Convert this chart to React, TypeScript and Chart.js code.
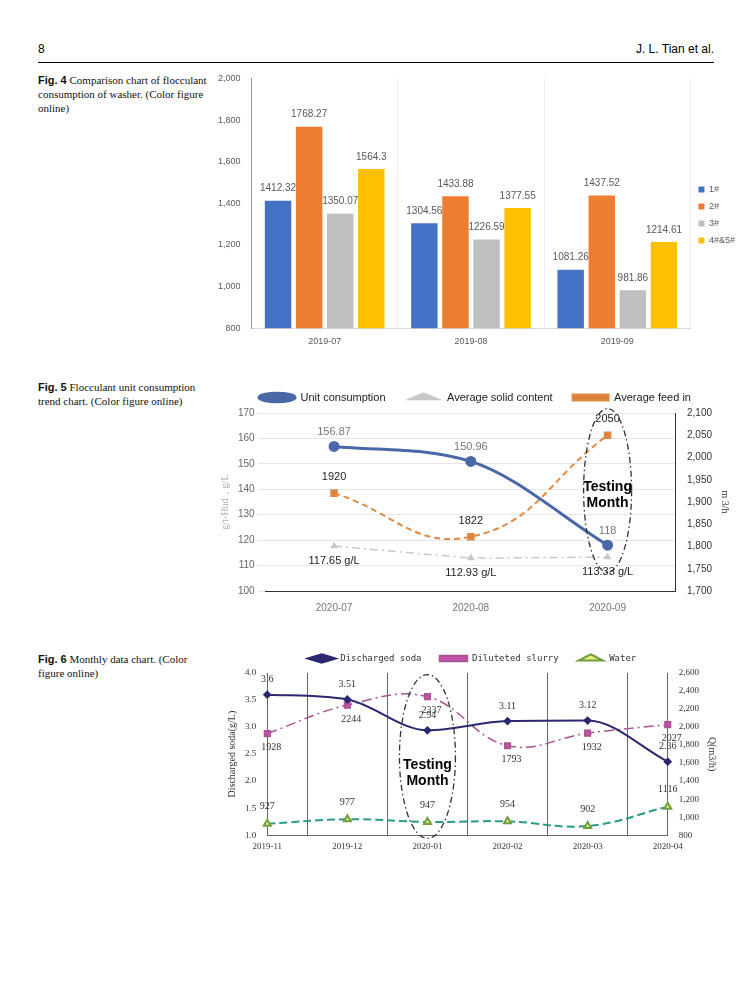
import React, { useEffect, useRef } from "react";
import { Chart, registerables } from "chart.js";
Chart.register(...registerables);

const months1 = ["2019-07", "2019-08", "2019-09"];
const s1 = [1412.32, 1304.56, 1081.26];
const s2 = [1768.27, 1433.88, 1437.52];
const s3 = [1350.07, 1226.59, 981.86];
const s45 = [1564.3, 1377.55, 1214.61];

const months2 = ["2020-07", "2020-08", "2020-09"];
const unitCons = [156.87, 150.96, 118];
const solid = [117.65, 112.93, 113.33];
const feed = [1920, 1822, 2050];

const months3 = ["2019-11", "2019-12", "2020-01", "2020-02", "2020-03", "2020-04"];
const soda = [3.6, 3.51, 2.94, 3.11, 3.12, 2.36];
const slurry = [1928, 2244, 2337, 1793, 1932, 2027];
const water = [927, 977, 947, 954, 902, 1116];

type Lab = { ds: number; suffix: string; dx: number; dy: number; color: string; font: string };
type Ell = { axis: string; idx: number; top: number; bot: number; rx: number; ty: number } | null;

function makeLabelPlugin(labs: Lab[], e: Ell) {
  return {
    id: "labs",
    afterDatasetsDraw(chart: any) {
      const ctx = chart.ctx;
      ctx.save();
      labs.forEach((l) => {
        const meta = chart.getDatasetMeta(l.ds);
        const data = chart.data.datasets[l.ds].data;
        meta.data.forEach((el: any, i: number) => {
          ctx.fillStyle = l.color;
          ctx.font = l.font;
          ctx.textAlign = "center";
          ctx.textBaseline = "middle";
          ctx.fillText(String(data[i]) + l.suffix, el.x + l.dx, el.y + l.dy);
        });
      });
      if (e) {
        const xs = chart.scales.x;
        const ys = chart.scales[e.axis];
        const cx = xs.getPixelForValue(e.idx);
        const top = ys.getPixelForValue(e.top);
        const bot = ys.getPixelForValue(e.bot);
        ctx.strokeStyle = "#333";
        ctx.lineWidth = 1.3;
        ctx.setLineDash([6, 3, 1.5, 3]);
        ctx.beginPath();
        ctx.ellipse(cx, (top + bot) / 2, e.rx, (bot - top) / 2, 0, 0, Math.PI * 2);
        ctx.stroke();
        ctx.setLineDash([]);
        ctx.fillStyle = "#000";
        ctx.font = "bold 14px 'Liberation Sans'";
        ctx.textAlign = "center";
        ctx.textBaseline = "middle";
        ctx.fillText("Testing", cx, e.ty);
        ctx.fillText("Month", cx, e.ty + 16);
      }
      ctx.restore();
    },
  };
}

function useChart(ref: any, cfg: () => any) {
  useEffect(() => {
    const c = new Chart(ref.current, cfg());
    return () => c.destroy();
  }, []);
}

function Chart1() {
  const r = useRef<HTMLCanvasElement>(null);
  useChart(r, () => {
    const f = "10px 'Liberation Sans'";
    const mk = (label: string, data: number[], color: string) => ({ label, data, backgroundColor: color, barPercentage: 0.85, categoryPercentage: 0.85 });
    return {
      type: "bar",
      data: { labels: months1, datasets: [mk("1#", s1, "#4472c4"), mk("2#", s2, "#ed7d31"), mk("3#", s3, "#bfbfbf"), mk("4#&5#", s45, "#ffc000")] },
      plugins: [makeLabelPlugin([0, 1, 2, 3].map((ds) => ({ ds, suffix: "", dx: 0, dy: -12, color: "#595959", font: f })), null)],
      options: {
        animation: false, responsive: false,
        layout: { padding: { top: 5 } },
        scales: {
          x: { grid: { offset: true, color: "#eeeeee", drawTicks: false }, border: { color: "#d9d9d9" }, ticks: { color: "#595959", font: { size: 9 }, padding: 8 } },
          y: { min: 800, max: 2000, ticks: { stepSize: 200, color: "#595959", font: { size: 9 } }, grid: { display: false }, border: { color: "#999" } },
        },
        plugins: {
          legend: { position: "right", labels: { boxWidth: 6, boxHeight: 6, font: { size: 9 }, color: "#595959", padding: 8 } },
          tooltip: { enabled: false },
        },
      },
    };
  });
  return <canvas ref={r} width={530} height={285} style={{ position: "absolute", left: 215, top: 70 }} />;
}

function Chart2() {
  const r = useRef<HTMLCanvasElement>(null);
  useChart(r, () => ({
    type: "line",
    data: {
      labels: months2,
      datasets: [
        { label: "Unit consumption", data: unitCons, borderColor: "#4a68a8", backgroundColor: "#4a68a8", borderWidth: 3, pointRadius: 4, cubicInterpolationMode: "monotone", yAxisID: "y" },
        { label: "Average solid content", data: solid, borderColor: "#c8c8c8", backgroundColor: "#c8c8c8", borderWidth: 1.5, borderDash: [8, 4, 2, 4], pointStyle: "triangle", pointRadius: 3, yAxisID: "y" },
        { label: "Average feed in", data: feed, borderColor: "#e08a47", backgroundColor: "#e07f3c", borderWidth: 2, borderDash: [6, 4], pointStyle: "rect", pointRadius: 4, tension: 0.45, yAxisID: "y1" },
      ],
    },
    plugins: [makeLabelPlugin([
      { ds: 0, suffix: "", dx: 0, dy: -14, color: "#777", font: "11px 'Liberation Sans'" },
      { ds: 1, suffix: " g/L", dx: 0, dy: 15, color: "#222", font: "11px 'Liberation Sans'" },
      { ds: 2, suffix: "", dx: 0, dy: -16, color: "#222", font: "11px 'Liberation Sans'" },
    ], { axis: "y1", idx: 2, top: 2110, bot: 1742, rx: 24, ty: 115 })],
    options: {
      animation: false, responsive: false,
      scales: {
        x: { offset: true, grid: { display: false }, border: { color: "#333" }, ticks: { color: "#777", font: { size: 10 } } },
        y: { min: 100, max: 170, ticks: { stepSize: 10, color: "#666", font: { size: 10 } }, grid: { color: "#e6e6e6" }, border: { display: false }, title: { display: true, text: "g/t-Hud，g/L", color: "#aaa", font: { family: "Liberation Serif", size: 10 } } },
        y1: { position: "right", min: 1700, max: 2100, ticks: { stepSize: 50, color: "#333", font: { size: 10 } }, grid: { display: false }, border: { color: "#333" }, title: { display: true, text: "m 3/h", color: "#333", font: { family: "Liberation Serif", size: 10 } } },
      },
      plugins: {
        legend: { labels: { usePointStyle: true, pointStyleWidth: 36, boxHeight: 6, font: { size: 11 }, color: "#222", padding: 20 } },
        tooltip: { enabled: false },
      },
    },
  }));
  return <canvas ref={r} width={520} height={245} style={{ position: "absolute", left: 215, top: 372 }} />;
}

function Chart3() {
  const r = useRef<HTMLCanvasElement>(null);
  useChart(r, () => {
    const f = "10px 'Liberation Serif'";
    return {
      type: "line",
      data: {
        labels: months3,
        datasets: [
          { label: "Discharged soda", data: soda, borderColor: "#2b2870", backgroundColor: "#2b2870", borderWidth: 2, pointStyle: "rectRot", pointRadius: 3, cubicInterpolationMode: "monotone", yAxisID: "y" },
          { label: "Diluteted slurry", data: slurry, borderColor: "#a8558e", backgroundColor: "#c052a8", borderWidth: 1.5, borderDash: [10, 4, 2, 4], pointStyle: "rect", pointRadius: 4, tension: 0.4, yAxisID: "y1" },
          { label: "Water", data: water, borderColor: "#2c9a86", backgroundColor: "#e8f07a", pointBorderColor: "#70a040", borderWidth: 2, borderDash: [8, 4], pointStyle: "triangle", pointRadius: 4, tension: 0.4, yAxisID: "y1" },
        ],
      },
      plugins: [makeLabelPlugin([
        { ds: 0, suffix: "", dx: 0, dy: -15, color: "#333", font: f },
        { ds: 1, suffix: "", dx: 4, dy: 14, color: "#333", font: f },
        { ds: 2, suffix: "", dx: 0, dy: -17, color: "#333", font: f },
      ], { axis: "y", idx: 2, top: 3.97, bot: 0.94, rx: 28, ty: 129 })],
      options: {
        animation: false, responsive: false,
        scales: {
          x: { grid: { offset: true, color: "#666", drawTicks: false }, border: { color: "#666" }, ticks: { color: "#333", font: { family: "Liberation Serif", size: 9 }, padding: 6 } },
          y: { min: 1, max: 4, ticks: { stepSize: 0.5, color: "#333", font: { family: "Liberation Serif", size: 9 } }, grid: { display: false }, border: { color: "#666" }, title: { display: true, text: "Discharged soda(g/L)", color: "#333", font: { family: "Liberation Serif", size: 10 } } },
          y1: { position: "right", min: 800, max: 2600, ticks: { stepSize: 200, color: "#333", font: { family: "Liberation Serif", size: 9 } }, grid: { display: false }, border: { color: "#666" }, title: { display: true, text: "Q(m3/h)", color: "#333", font: { family: "Liberation Serif", size: 10 } } },
        },
        plugins: {
          legend: { labels: { usePointStyle: true, pointStyleWidth: 28, boxHeight: 6, font: { family: "DejaVu Sans Mono", size: 9 }, color: "#333", padding: 18 } },
          tooltip: { enabled: false },
        },
      },
    };
  });
  return <canvas ref={r} width={500} height={222} style={{ position: "absolute", left: 222, top: 636 }} />;
}

const cap: React.CSSProperties = { position: "absolute", left: 38, width: 170, fontFamily: "'Liberation Serif'", fontSize: 11, lineHeight: "14px", color: "#111" };
const sans: React.CSSProperties = { fontFamily: "'Liberation Sans'", fontWeight: "bold" };

export default function App() {
  return (
    <div style={{ position: "relative", width: 752, height: 1000, background: "#fff", margin: -8 }}>
      <div style={{ position: "absolute", left: 38, top: 42, fontFamily: "'Liberation Sans'", fontSize: 12 }}>8</div>
      <div style={{ position: "absolute", right: 38, top: 42, fontFamily: "'Liberation Sans'", fontSize: 12 }}>J. L. Tian et al.</div>
      <div style={{ position: "absolute", left: 38, right: 38, top: 62, borderTop: "1px solid #000" }} />
      <div style={{ ...cap, top: 73 }}><span style={sans}>Fig. 4</span> Comparison chart of flocculant consumption of washer. (Color figure online)</div>
      <div style={{ ...cap, top: 380 }}><span style={sans}>Fig. 5</span> Flocculant unit consumption trend chart. (Color figure online)</div>
      <div style={{ ...cap, top: 652 }}><span style={sans}>Fig. 6</span> Monthly data chart. (Color figure online)</div>
      <Chart1 />
      <Chart2 />
      <Chart3 />
    </div>
  );
}
